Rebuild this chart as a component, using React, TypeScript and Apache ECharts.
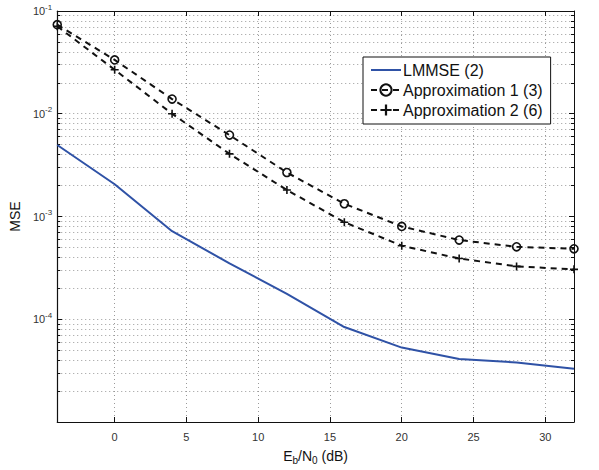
import React, { useEffect, useRef } from 'react';
import * as echarts from 'echarts';

const snr = [-4, 0, 4, 8, 12, 16, 20, 24, 28, 32];
const lmmse = [4.96e-3, 2.06e-3, 7.2e-4, 3.5e-4, 1.77e-4, 8.4e-5, 5.3e-5, 4.1e-5, 3.8e-5, 3.3e-5];
const approx1 = [0.0736, 0.0334, 0.0139, 6.2e-3, 2.68e-3, 1.33e-3, 8.0e-4, 5.9e-4, 5.07e-4, 4.85e-4];
const approx2 = [0.071, 0.0268, 0.01, 4.07e-3, 1.81e-3, 8.8e-4, 5.2e-4, 3.9e-4, 3.27e-4, 3.06e-4];
const xTicks = [0, 5, 10, 15, 20, 25, 30];
const seriesNames = ['LMMSE (2)', 'Approximation 1 (3)', 'Approximation 2 (6)'];
const decadeExps = [-5, -4, -3, -2];
const minorMultipliers = [2, 3, 4, 5, 6, 7, 8, 9];

const FONT = 'Liberation Sans, Arial, Helvetica, sans-serif';
const minorExp: number[] = [];
decadeExps.forEach((e) => minorMultipliers.forEach((k) => minorExp.push(e + Math.log10(k))));

const gridLine = { show: true, lineStyle: { color: '#9a9a9a', width: 1, type: [1, 3] as any } };
const PLUS = 'path://M4,0h2v4h4v2h-4v4h-2v-4h-4v-2h4z';
const LINE_ICON = 'path://M0,6h30v2h-30z';

export default function App() {
  const ref = useRef<HTMLDivElement>(null);
  useEffect(() => {
    const chart = echarts.init(ref.current!, null, { renderer: 'svg' });
    const pairs = (ys: number[]) => snr.map((x, i) => [x, ys[i]]);
    const option: any = {
      animation: false,
      backgroundColor: '#fff',
      textStyle: { fontFamily: FONT },
      grid: { left: 55, right: 25, top: 11, bottom: 38, show: false },
      legend: {
        orient: 'vertical',
        left: 363,
        top: 57,
        width: 194,
        padding: [5, 8, 6, 7],
        itemWidth: 30,
        itemHeight: 14,
        itemGap: 4,
        backgroundColor: '#fff',
        borderColor: '#111',
        borderWidth: 1,
        borderRadius: 0,
        textStyle: { fontSize: 16, color: '#111', fontFamily: FONT, padding: [0, 0, 0, -3] },
        data: [
          { name: seriesNames[0], icon: LINE_ICON },
          { name: seriesNames[1] },
          { name: seriesNames[2] },
        ],
      },
      xAxis: [
        {
          type: 'value', min: -4, max: 32, position: 'bottom',
          axisLine: { show: true, onZero: false, lineStyle: { color: '#111', width: 1.2 } },
          axisTick: { show: true, customValues: xTicks, inside: true, length: 5, lineStyle: { color: '#111' } },
          axisLabel: { customValues: xTicks, fontSize: 11, color: '#333', margin: 9, fontFamily: FONT },
          splitLine: gridLine,
          name: '{n|E}{sub|b}{n|/N}{sub|0}{n| (dB)}',
          nameLocation: 'middle',
          nameGap: 24,
          nameTextStyle: {
            rich: {
              n: { fontSize: 14, color: '#111', fontFamily: FONT },
              sub: { fontSize: 10, color: '#111', fontFamily: FONT, padding: [9, 0, 0, 0] },
            },
          },
        },
        {
          type: 'value', min: -4, max: 32, position: 'top',
          axisLine: { show: true, onZero: false, lineStyle: { color: '#111', width: 1 } },
          axisTick: { show: true, customValues: xTicks, inside: true, length: 5, lineStyle: { color: '#111' } },
          axisLabel: { show: false },
          splitLine: { show: false },
        },
      ],
      yAxis: [
        {
          type: 'log', logBase: 10, min: 1e-5, max: 0.1, position: 'left',
          axisLine: { show: true, onZero: false, lineStyle: { color: '#111', width: 1.2 } },
          axisTick: { show: true, inside: true, length: 5, lineStyle: { color: '#111' } },
          axisLabel: {
            margin: 5,
            formatter: (v: number) => {
              const e = Math.round(Math.log10(v));
              return e <= -5 ? '' : `{b|10}{s|${e}}`;
            },
            rich: {
              b: { fontSize: 11, color: '#333', fontFamily: FONT },
              s: { fontSize: 8, color: '#333', fontFamily: FONT, padding: [0, 0, 8, 0] },
            },
          },
          splitLine: gridLine,
          name: 'MSE',
          nameLocation: 'middle',
          nameGap: 22,
          nameTextStyle: { fontSize: 14, color: '#111', fontFamily: FONT },
        },
        {
          type: 'value', min: -5, max: -1, position: 'left',
          axisLine: { show: false, onZero: false },
          axisTick: { show: true, customValues: minorExp, inside: true, length: 3, lineStyle: { color: '#111' } },
          axisLabel: { show: false },
          splitLine: gridLine,
        },
        {
          type: 'log', logBase: 10, min: 1e-5, max: 0.1, position: 'right',
          axisLine: { show: true, onZero: false, lineStyle: { color: '#111', width: 1 } },
          axisTick: { show: true, inside: true, length: 5, lineStyle: { color: '#111' } },
          axisLabel: { show: false },
          splitLine: { show: false },
        },
        {
          type: 'value', min: -5, max: -1, position: 'right',
          axisLine: { show: false, onZero: false },
          axisTick: { show: true, customValues: minorExp, inside: true, length: 3, lineStyle: { color: '#111' } },
          axisLabel: { show: false },
          splitLine: { show: false },
        },
      ],
      series: [
        {
          name: seriesNames[0], type: 'line', data: pairs(lmmse), showSymbol: false, symbol: 'none',
          lineStyle: { color: '#2f52a6', width: 2 }, itemStyle: { color: '#2f52a6' }, z: 3,
        },
        {
          name: seriesNames[1], type: 'line', data: pairs(approx1), symbol: 'circle', symbolSize: 8,
          lineStyle: { color: '#111', width: 2, type: [6, 5] },
          itemStyle: { color: 'rgba(0,0,0,0)', borderColor: '#111', borderWidth: 1.6 }, z: 4,
        },
        {
          name: seriesNames[2], type: 'line', data: pairs(approx2), symbol: PLUS, symbolSize: 8,
          lineStyle: { color: '#111', width: 2, type: [6, 5] },
          itemStyle: { color: '#111', borderWidth: 0 }, z: 4,
        },
      ],
    };
    chart.setOption(option);
    return () => chart.dispose();
  }, []);
  return (
    <div
      ref={ref}
      style={{ position: 'absolute', left: 0, top: 0, width: 599, height: 470, background: '#fff' }}
    />
  );
}
